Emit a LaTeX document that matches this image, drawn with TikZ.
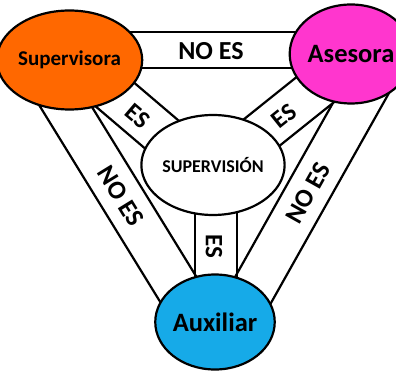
\documentclass[tikz,border=0pt]{standalone}
\usepackage{fontspec}
\setmainfont{Carlito}
\usetikzlibrary{shapes.geometric,calc}
\definecolor{supcol}{RGB}{255,104,0}
\definecolor{asecol}{RGB}{255,54,206}
\definecolor{auxcol}{RGB}{22,170,232}
\tikzset{
  bandline/.style={draw=black, line width=2.2pt},
  bubble/.style={ellipse, draw=black, line width=2.2pt, inner sep=0pt, font=\bfseries},
  lbl/.style={inner sep=0pt, font=\bfseries\fontsize{25}{28}\selectfont}
}
\newcommand\bandpair[3]{%
  \draw[bandline] ($(#1)!#3!90:(#2)$) -- ($(#2)!#3!-90:(#1)$);
  \draw[bandline] ($(#1)!#3!-90:(#2)$) -- ($(#2)!#3!90:(#1)$);}
\begin{document}
\begin{tikzpicture}[x=1pt,y=-1pt]
\useasboundingbox (0,0) rectangle (396,371);
\clip (0,0) rectangle (396,371);
% band end points
\coordinate (tA) at (69.5,50);  \coordinate (tB) at (348,50);
\coordinate (lA) at (71.5,57.6); \coordinate (lB) at (208.4,174.2);
\coordinate (rA) at (351,61);   \coordinate (rB) at (222.4,164);
\coordinate (mA) at (216,165);  \coordinate (mB) at (216,322);
\coordinate (nlA) at (37.8,60.9); \coordinate (nlB) at (199,323);
\coordinate (nrA) at (376.7,70);  \coordinate (nrB) at (247.4,300);
\bandpair{tA}{tB}{18pt}
\bandpair{lA}{lB}{21.5pt}
\bandpair{rA}{rB}{21.5pt}
\bandpair{mA}{mB}{21pt}
\bandpair{nlA}{nlB}{22pt}
\bandpair{nrA}{nrB}{22pt}
% circles
\node[bubble, fill=supcol, minimum width=111pt, minimum height=99pt, font=\bfseries\fontsize{21}{24}\selectfont] (sup) at (69.5,60) {Supervisora};
\node[bubble, fill=asecol, minimum width=112pt, minimum height=99pt, font=\bfseries\fontsize{26.5}{30}\selectfont] (ase) at (351,54) {Asesora};
\node[bubble, fill=auxcol, minimum width=110pt, minimum height=95pt, font=\bfseries\fontsize{26.5}{30}\selectfont] (aux) at (215,322) {Auxiliar};
\node[bubble, fill=white, minimum width=110pt, minimum height=100pt, font=\bfseries\fontsize{18}{22}\selectfont] (svn) at (213,165) {SUPERVISIÓN};
% labels
\node[lbl, font=\bfseries\fontsize{26}{28}\selectfont] (l1) at (211,51) {NO ES};
\node[lbl, rotate=-40.4] (l2) at (138,116) {ES};
\node[lbl, rotate=38.7] (l3) at (284,116) {ES};
\node[lbl, rotate=-90] (l4) at (214,246) {ES};
\node[lbl, rotate=-58.4, font=\bfseries\fontsize{26}{28}\selectfont] (l5) at (121,196) {NO ES};
\node[lbl, rotate=60.7, font=\bfseries\fontsize{26}{28}\selectfont] (l6) at (308,193) {NO ES};
\end{tikzpicture}
\end{document}
